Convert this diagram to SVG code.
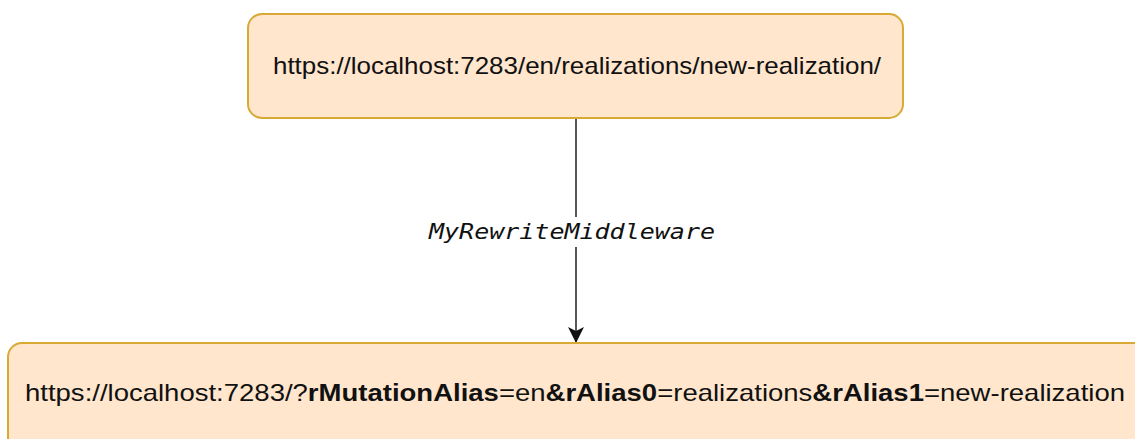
<svg xmlns="http://www.w3.org/2000/svg" width="1135" height="439" viewBox="0 0 1135 439">
  <defs>
    <style>
      .box { fill: #ffe6cc; stroke: #d9a935; stroke-width: 2; }
      .url { font-family: "Liberation Sans", Arial, sans-serif; font-size: 24px; fill: #111; }
      .url .b { font-weight: bold; }
      .edge { stroke: #111; stroke-width: 1.4; fill: none; }
      .lbl { font-family: "DejaVu Sans Mono", monospace; font-style: italic; font-size: 21.5px; fill: #111; }
    </style>
    <marker id="arrow" viewBox="0 0 16 16" refX="15" refY="8" markerWidth="16" markerHeight="16" markerUnits="userSpaceOnUse" orient="auto">
      <path d="M0,0 L16,8 L0,16 L4,8 Z" fill="#111"/>
    </marker>
  </defs>

  <!-- connector: original route rewritten by the middleware -->
  <g id="connectors">
    <line class="edge" x1="576" y1="118" x2="576" y2="342" marker-end="url(#arrow)"/>
    <rect x="426" y="217" width="294" height="30" fill="#ffffff"/>
    <text class="lbl" x="429" y="239" textLength="286" lengthAdjust="spacingAndGlyphs">MyRewriteMiddleware</text>
  </g>

  <!-- incoming friendly URL -->
  <g id="node-source">
    <rect class="box" x="248" y="14" width="655" height="104" rx="14" ry="14"/>
    <text class="url" x="273" y="74" textLength="608" lengthAdjust="spacingAndGlyphs">https://localhost:7283/en/realizations/new-realization/</text>
  </g>

  <!-- rewritten URL with query parameters -->
  <g id="node-target">
    <rect class="box" x="8" y="343" width="1140" height="110" rx="14" ry="14"/>
    <text class="url" x="25" y="401" textLength="1100" lengthAdjust="spacingAndGlyphs">https://localhost:7283/?<tspan class="b">rMutationAlias</tspan>=en<tspan class="b">&amp;rAlias0</tspan>=realizations<tspan class="b">&amp;rAlias1</tspan>=new-realization</text>
  </g>
</svg>
